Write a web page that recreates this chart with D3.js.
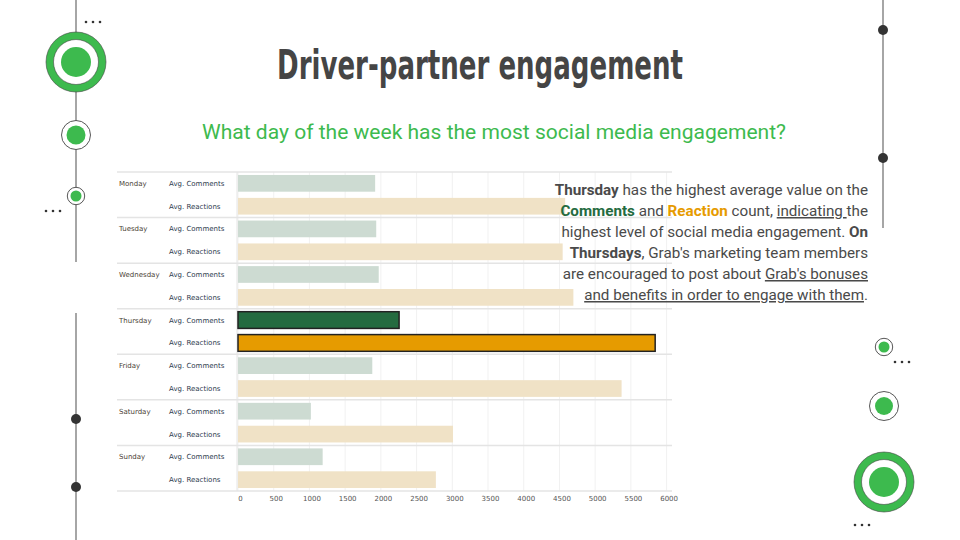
<!DOCTYPE html>
<html><head><meta charset="utf-8">
<script src="https://cdn.jsdelivr.net/npm/d3@7"></script>
<style>body{margin:0;background:#fff}svg{display:block}</style>
</head><body>
<svg id="c" width="960" height="540"></svg>
<script>
const days = ["Monday","Tuesday","Wednesday","Thursday","Friday","Saturday","Sunday"];
const metrics = ["Avg. Comments","Avg. Reactions"];
const comments = [1920,1935,1970,2255,1880,1020,1185];
const reactions = [4580,4545,4695,5840,5370,3010,2770];
const ticks = [0,500,1000,1500,2000,2500,3000,3500,4000,4500,5000,5500,6000];
const highlightDay = "Thursday";

const svg = d3.select("#c");
const green = "#3dba4e";

// ---------- decorations ----------
const deco = svg.append("g");
function line(x,y1,y2){deco.append("line").attr("x1",x).attr("x2",x).attr("y1",y1).attr("y2",y2).attr("stroke","#888").attr("stroke-width",1.5);}
function dots3(x,y){for(let i=0;i<3;i++)deco.append("circle").attr("cx",x+i*7).attr("cy",y).attr("r",1.3).attr("fill","#333");}
function bigRing(cx,cy){
  deco.append("circle").attr("cx",cx).attr("cy",cy).attr("r",30).attr("fill",green).attr("stroke","#444").attr("stroke-width",0.6);
  deco.append("circle").attr("cx",cx).attr("cy",cy).attr("r",22.5).attr("fill","#fff").attr("stroke","#444").attr("stroke-width",0.6);
  deco.append("circle").attr("cx",cx).attr("cy",cy).attr("r",15).attr("fill",green);
}
function ring(cx,cy,ro,ri){
  deco.append("circle").attr("cx",cx).attr("cy",cy).attr("r",ro).attr("fill","#fff").attr("stroke","#444").attr("stroke-width",0.9);
  deco.append("circle").attr("cx",cx).attr("cy",cy).attr("r",ri).attr("fill",green);
}
line(76,0,262); line(76,313,540); line(883,0,228);
bigRing(76,62); ring(76,135,14.5,9.5); ring(76,196,8.7,5.5);
dots3(86,22); dots3(46,211);
[419,487].forEach(y=>deco.append("circle").attr("cx",76).attr("cy",y).attr("r",5).attr("fill","#333"));
[30,158].forEach(y=>deco.append("circle").attr("cx",883).attr("cy",y).attr("r",5).attr("fill","#333"));
ring(884,347,8.7,5.5); ring(884,406,14.5,9); bigRing(884,482);
dots3(895,362); dots3(855,525);

// ---------- titles ----------
svg.append("text").attr("x",480).attr("y",79).attr("text-anchor","middle")
  .attr("font-family","DejaVu Sans Condensed").attr("font-weight","bold").attr("font-size",40).attr("fill","#454545")
  .attr("textLength",406).attr("lengthAdjust","spacingAndGlyphs")
  .text("Driver-partner engagement");
svg.append("text").attr("x",494).attr("y",139).attr("text-anchor","middle")
  .attr("font-family","Roboto").attr("font-size",21).attr("fill",green)
  .attr("textLength",584).attr("lengthAdjust","spacingAndGlyphs")
  .text("What day of the week has the most social media engagement?");

// ---------- chart ----------
const x = d3.scaleLinear().domain([0,6000]).range([238,666.6]);
const y = d3.scaleBand().domain(days).range([172,491]);
const yi = d3.scaleBand().domain(metrics).range([0,y.bandwidth()]).paddingInner(0.27).paddingOuter(0.13);
const chart = svg.append("g");

// gridlines
chart.selectAll(".grid").data(ticks).join("line")
  .attr("x1",d=>x(d)).attr("x2",d=>x(d)).attr("y1",172).attr("y2",491)
  .attr("stroke","#f1f1f1").attr("stroke-width",1);

// separators
const bounds = days.map(d=>y(d)).concat([y.range()[1]]);
chart.selectAll(".sep").data(bounds).join("line")
  .attr("x1",117).attr("x2",672).attr("y1",d=>d).attr("y2",d=>d)
  .attr("stroke","#e4e4e4").attr("stroke-width",1.5);
chart.append("line").attr("x1",237).attr("x2",237).attr("y1",172).attr("y2",491).attr("stroke","#e4e4e4").attr("stroke-width",1);

const rows = [];
days.forEach((d,i)=>{
  rows.push({day:d,metric:metrics[0],value:comments[i]});
  rows.push({day:d,metric:metrics[1],value:reactions[i]});
});
const fillFor = r => {
  if(r.day===highlightDay) return r.metric===metrics[0]?"#246b40":"#e69b00";
  return r.metric===metrics[0]?"#cddbd2":"#f0e2c6";
};
chart.selectAll(".bar").data(rows).join("rect")
  .attr("x",x(0)).attr("y",r=>y(r.day)+yi(r.metric))
  .attr("width",r=>x(r.value)-x(0)).attr("height",yi.bandwidth())
  .attr("fill",fillFor)
  .attr("stroke",r=>r.day===highlightDay?"#222":"none").attr("stroke-width",1.5);

// row labels
chart.selectAll(".day").data(days).join("text")
  .attr("x",119).attr("y",d=>y(d)+yi(metrics[0])+yi.bandwidth()/2+2.5)
  .attr("font-family","DejaVu Sans").attr("font-size",7).attr("fill","#4a3f35").text(d=>d);
chart.selectAll(".met").data(rows).join("text")
  .attr("x",169).attr("y",r=>y(r.day)+yi(r.metric)+yi.bandwidth()/2+2.5)
  .attr("font-family","DejaVu Sans").attr("font-size",7).attr("fill","#2e3b4e").text(r=>r.metric);

// x axis
const ax = chart.append("g").attr("transform","translate(2,491)")
  .call(d3.axisBottom(x).tickValues(ticks).tickSize(0).tickPadding(5).tickFormat(d3.format("d")));
ax.select(".domain").remove();
ax.selectAll("text").attr("font-family","DejaVu Sans").attr("font-size",7).attr("fill","#555");

// ---------- annotation ----------
const ann = svg.append("text").attr("text-anchor","end").attr("font-family","Roboto")
  .attr("font-size",15.2).attr("fill","#4a4a4a");
const lines = [
  [["Thursday",{b:1}],[" has the highest average value on the"]],
  [["Comments",{b:1,c:"#246b40"}],[" and "],["Reaction",{b:1,c:"#e69b00"}],[" count, "],["indicating ",{u:1}],["the"]],
  [["highest level of social media engagement. "],["On",{b:1}]],
  [["Thursdays",{b:1}],[", Grab's marketing team members"]],
  [["are encouraged to post about "],["Grab's bonuses",{u:1}]],
  [["and benefits in order to engage with them",{u:1}],["."]]
];
lines.forEach((ln,i)=>{
  ln.forEach((seg,j)=>{
    const o = seg[1]||{};
    const t = ann.append("tspan").text(seg[0]);
    if(j===0) t.attr("x",868).attr("y",195+i*21);
    if(o.b) t.attr("font-weight","bold");
    if(o.c) t.attr("fill",o.c);
    if(o.u) t.attr("text-decoration","underline");
  });
});
</script>
</body></html>
